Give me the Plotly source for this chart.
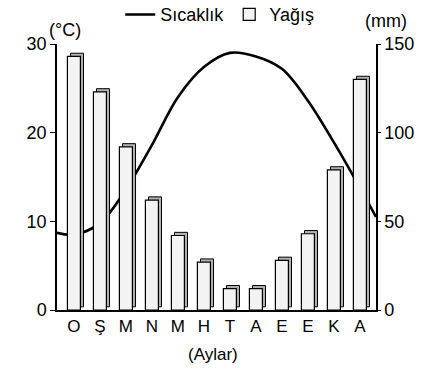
import plotly.graph_objects as go

months = ["O", "Ş", "M", "N", "M", "H", "T", "A", "E", "E", "K", "A"]
precip_mm = [143, 123, 92, 62, 42, 27, 12, 12, 28, 43, 79, 130]
temp_c = [8.5, 9.8, 13.6, 18.6, 24.0, 27.4, 29.0, 28.6, 27.2, 23.6, 18.9, 13.8]
temp_edge_left = 8.7
temp_edge_right = 10.5
y_ticks_c = [0, 10, 20, 30]
y_ticks_mm = [0, 50, 100, 150]

xpos = list(range(1, len(months) + 1))
x_range = [0.35, 12.62]

FONT = "Liberation Sans, Arial, sans-serif"

fig = go.Figure()

# depth (3D side/top) of bars
fig.add_trace(go.Bar(
    x=xpos, y=precip_mm, base=1.8, width=0.5, offset=-0.13,
    marker=dict(color="#b0b0b0", line=dict(color="black", width=1)),
    yaxis="y2", showlegend=False, hoverinfo="skip",
))
# front faces of bars
fig.add_trace(go.Bar(
    x=xpos, y=precip_mm, width=0.5, offset=-0.25, name="Yağış",
    marker=dict(color="#f3f3f3", line=dict(color="black", width=1.2)),
    yaxis="y2",
))
# temperature line
fig.add_trace(go.Scatter(
    x=[x_range[0]] + xpos + [x_range[1]],
    y=[temp_edge_left] + temp_c + [temp_edge_right],
    mode="lines", line=dict(color="black", width=2.6, shape="spline", smoothing=1.0),
    name="Sıcaklık", yaxis="y", cliponaxis=False,
))

fig.update_layout(
    width=427, height=372,
    margin=dict(l=57, r=51, t=44, b=62, autoexpand=False),
    paper_bgcolor="white", plot_bgcolor="white",
    font=dict(family=FONT, size=17, color="black"),
    barmode="overlay",
    showlegend=True,
    legend=dict(orientation="h", x=0.51, xanchor="center", y=1.11, yanchor="middle",
                traceorder="reversed", font=dict(size=18), itemwidth=30,
                bgcolor="rgba(0,0,0,0)"),
    xaxis=dict(range=x_range, tickvals=xpos, ticktext=months, showgrid=False,
               zeroline=False, showline=True, linecolor="black", linewidth=1.5,
               ticks="", tickfont=dict(size=17)),
    yaxis=dict(range=[0, 30], tickvals=y_ticks_c, showgrid=False, zeroline=False,
               showline=True, linecolor="black", linewidth=1.5, ticks="outside",
               ticklen=5, tickcolor="black", tickfont=dict(size=18)),
    yaxis2=dict(range=[0, 150], tickvals=y_ticks_mm, overlaying="y", side="right",
                showgrid=False, zeroline=False, showline=True, linecolor="black",
                linewidth=1.5, ticks="outside", ticklen=3, tickcolor="black",
                tickfont=dict(size=18)),
    annotations=[
        dict(text="(°C)", x=0.025, y=1.053, xref="paper", yref="paper",
             showarrow=False, font=dict(size=18), xanchor="center", yanchor="middle"),
        dict(text="(mm)", x=1.03, y=1.086, xref="paper", yref="paper",
             showarrow=False, font=dict(size=18), xanchor="center", yanchor="middle"),
        dict(text="(Aylar)", x=0.489, y=-0.169, xref="paper", yref="paper",
             showarrow=False, font=dict(size=17), xanchor="center", yanchor="middle"),
    ],
)

fig.write_html(
    "out.html",
    config={"displayModeBar": False},
    post_script="document.body.style.margin='0';document.body.style.overflow='hidden';",
)
